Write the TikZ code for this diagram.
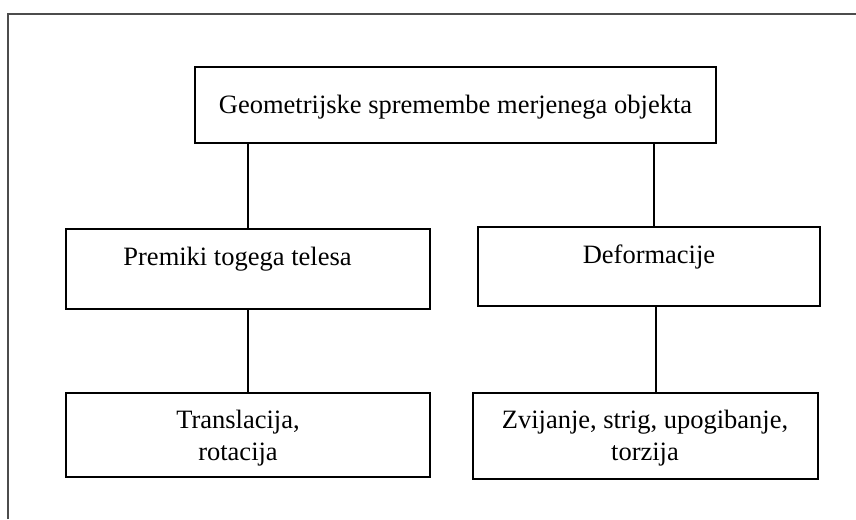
\documentclass[tikz,border=0pt]{standalone}
\usepackage{fontspec}
\setmainfont{Liberation Serif}
\begin{document}
\begin{tikzpicture}[x=1pt,y=-1pt,
  box/.style={draw=black,line width=1.6pt,rectangle,inner sep=0pt},
  lbl/.style={anchor=base,inner sep=0pt,font=\fontsize{26.5}{31}\selectfont},
  conn/.style={draw=black,line width=1.6pt},
  frame/.style={draw=black!70,line width=1.3pt}]
\useasboundingbox (0,0) rectangle (856,519);
% outer frame (top and left edges)
\coordinate (fl) at (8,519);
\coordinate (fc) at (8,14);
\coordinate (fr) at (856,14);
\draw[frame] (fl) -- (fc) -- (fr);
% boxes
\node[box,minimum width=521pt,minimum height=76pt] (top) at (455.5,105) {};
\node[box,minimum width=364pt,minimum height=80pt] (lmid) at (248,269) {};
\node[box,minimum width=342pt,minimum height=79pt] (rmid) at (649,266.5) {};
\node[box,minimum width=364pt,minimum height=84pt] (lbot) at (248,435) {};
\node[box,minimum width=345pt,minimum height=86pt] (rbot) at (645.5,436) {};
% texts
\node[lbl] (ttop) at (455.5,113) {Geometrijske spremembe merjenega objekta};
\node[lbl] (tlmid) at (237.5,265) {Premiki togega telesa};
\node[lbl] (trmid) at (649,263) {Deformacije};
\node[lbl] (tlbot1) at (238,428) {Translacija,};
\node[lbl] (tlbot2) at (238,460) {rotacija};
\node[lbl] (trbot1) at (645,428) {Zvijanje, strig, upogibanje,};
\node[lbl] (trbot2) at (645,460) {torzija};
% connectors
\draw[conn] (top.south -| lmid.north) -- (lmid.north);
\draw[conn] (top.south -| 654,0) -- (lmid.north -| 654,0 |- rmid.north);
\draw[conn] (lmid.south) -- (lbot.north);
\draw[conn] (rmid.south -| 656,0) -- (rbot.north -| 656,0);
\end{tikzpicture}
\end{document}
